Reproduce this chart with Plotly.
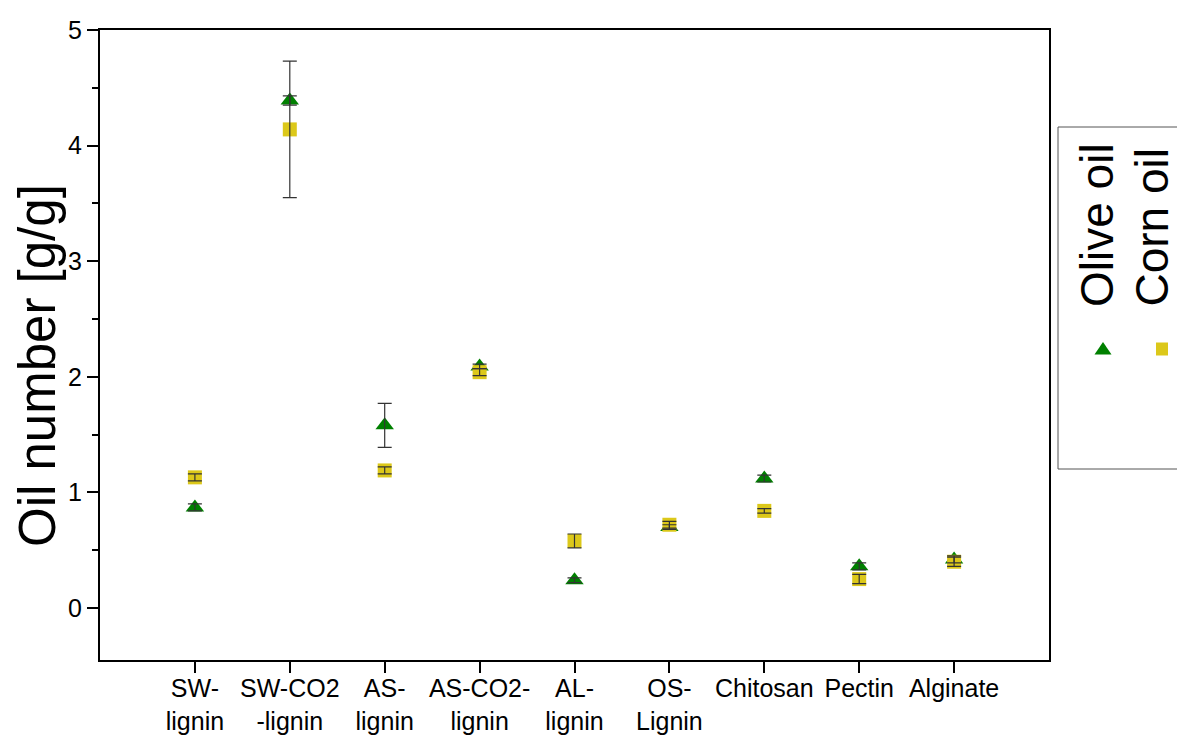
import plotly.graph_objects as go

categories = ["SW-<br>lignin", "SW-CO2<br>-lignin", "AS-<br>lignin", "AS-CO2-<br>lignin",
              "AL-<br>lignin", "OS-<br>Lignin", "Chitosan", "Pectin", "Alginate"]
positions = [1, 2, 3, 4, 5, 6, 7, 8, 9]
olive = [0.87, 4.39, 1.58, 2.09, 0.24, 0.70, 1.12, 0.36, 0.42]
olive_err = [0.03, 0.04, 0.19, 0.02, 0.02, 0.02, 0.03, 0.03, 0.03]
corn = [1.13, 4.14, 1.19, 2.04, 0.58, 0.72, 0.84, 0.25, 0.40]
corn_err = [0.03, 0.59, 0.03, 0.03, 0.06, 0.03, 0.02, 0.04, 0.04]
series_names = ["Olive oil", "Corn oil"]

GREEN = "#008000"
YELLOW = "#DCC81A"
ERRC = "#333333"
FONT = "Liberation Sans, Arial, sans-serif"

fig = go.Figure()
fig.add_trace(go.Scatter(x=positions, y=olive, mode="markers", showlegend=False,
                         marker=dict(symbol="triangle-up", size=16, color=GREEN, line=dict(width=0))))
fig.add_trace(go.Scatter(x=positions, y=corn, mode="markers", showlegend=False,
                         marker=dict(symbol="square", size=14, color=YELLOW, line=dict(width=0))))
# error bars drawn on top of markers
for vals, errs in [(olive, olive_err), (corn, corn_err)]:
    fig.add_trace(go.Scatter(x=positions, y=vals, mode="markers", showlegend=False,
                             marker=dict(size=1, opacity=0),
                             error_y=dict(type="data", array=errs, visible=True,
                                          color=ERRC, thickness=1.2, width=7)))

fig.update_layout(
    width=1177, height=742,
    margin=dict(l=100, r=128, t=30, b=82),
    paper_bgcolor="white", plot_bgcolor="white",
    font=dict(family=FONT, color="black"),
    showlegend=False,
    xaxis=dict(range=[0, 10], tickmode="array", tickvals=positions, ticktext=categories,
               ticks="outside", ticklen=11, tickwidth=1.5, tickcolor="black",
               tickangle=0, automargin=False, ticklabelstandoff=-6,
               showline=True, linewidth=2, linecolor="black", mirror=True,
               showgrid=False, zeroline=False, tickfont=dict(size=25, family=FONT)),
    yaxis=dict(range=[-0.45, 5], tickmode="linear", tick0=0, dtick=1,
               ticks="outside", ticklen=11, tickwidth=1.5, tickcolor="black",
               automargin=False,
               minor=dict(tickmode="linear", tick0=0, dtick=0.5,
                          ticks="outside", ticklen=6, tickwidth=1.5, tickcolor="black"),
               showline=True, linewidth=2, linecolor="black", mirror=True,
               showgrid=False, zeroline=False, tickfont=dict(size=25, family=FONT)),
)

# y-axis title
fig.add_annotation(text="Oil number [g/g]", xref="paper", yref="paper",
                   x=(37 - 100) / 949, y=(660 - 366) / 630, textangle=-90,
                   showarrow=False, xanchor="center", yanchor="middle",
                   font=dict(size=51, family=FONT, color="black"))

# legend box (rotated Origin-style legend)
fig.add_shape(type="rect", xref="paper", yref="paper",
              x0=(1058 - 100) / 949, x1=(1190 - 100) / 949,
              y0=(660 - 469) / 630, y1=(660 - 127) / 630,
              line=dict(color="#555555", width=1), fillcolor="rgba(0,0,0,0)")
for name, cx in zip(series_names, [1097, 1151]):
    fig.add_annotation(text=name, xref="paper", yref="paper",
                       x=(cx - 100) / 949, y=(660 - 309) / 630, textangle=-90,
                       showarrow=False, xanchor="center", yanchor="bottom",
                       font=dict(size=46, family=FONT, color="black"))
# legend symbols
fig.add_shape(type="path", xref="paper", yref="paper", xsizemode="pixel", ysizemode="pixel",
              xanchor=(1103 - 100) / 949, yanchor=(660 - 349) / 630,
              path="M-8.5,-5.5 L8.5,-5.5 L0,7 Z", fillcolor=GREEN, line=dict(width=0))
fig.add_shape(type="rect", xref="paper", yref="paper", xsizemode="pixel", ysizemode="pixel",
              xanchor=(1162 - 100) / 949, yanchor=(660 - 349) / 630,
              x0=-6, x1=6, y0=-6.5, y1=6.5, fillcolor=YELLOW, line=dict(width=0))

fig.write_html("out.html")
